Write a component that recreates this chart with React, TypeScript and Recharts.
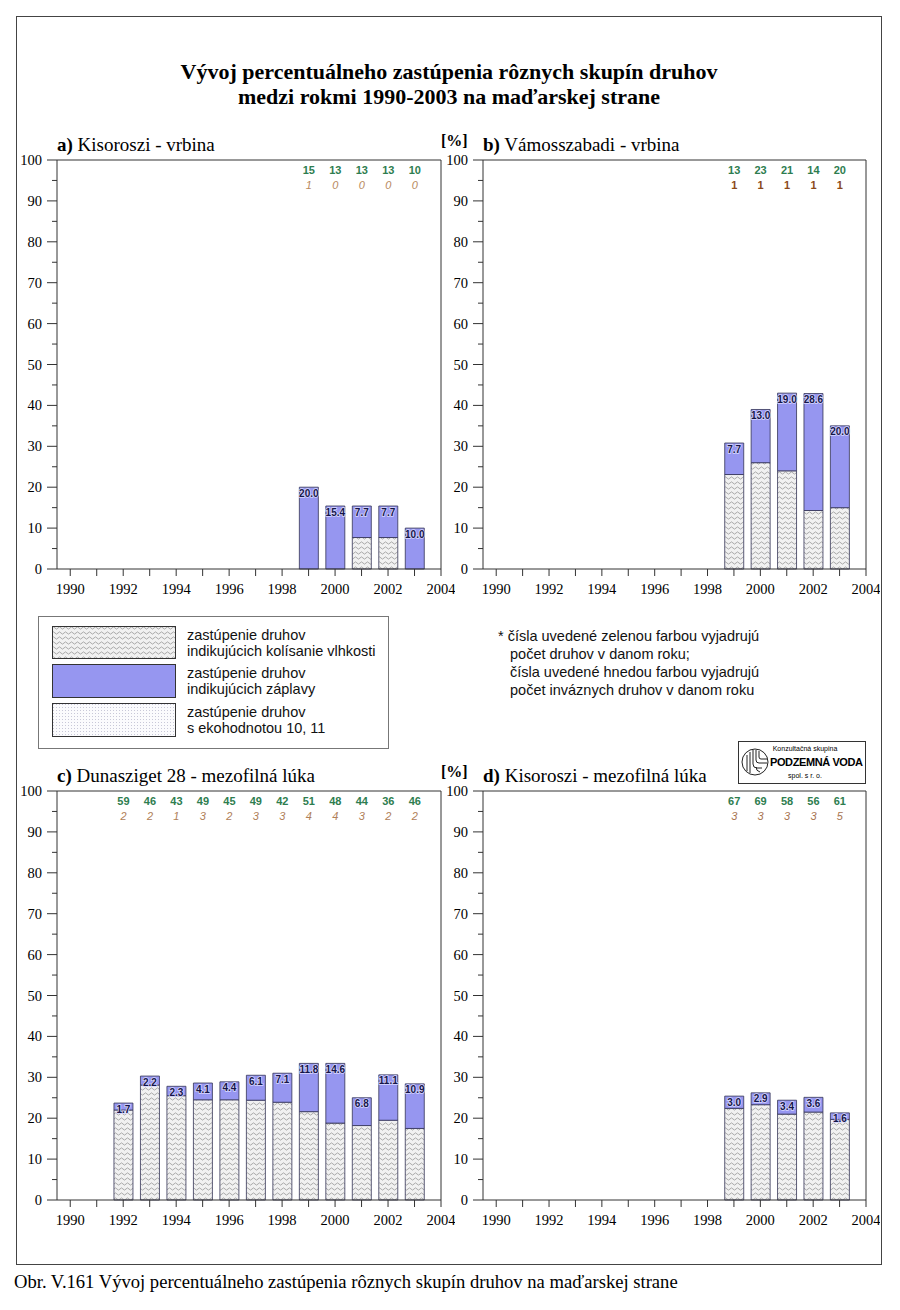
import React from "react"
import { Bar, BarChart, XAxis, YAxis, LabelList, ReferenceLine } from "recharts"

const SERIF = '"Liberation Serif", "Times New Roman", serif'
const SANS = '"Liberation Sans", Arial, sans-serif'
const AXIS = "#333"
const FLOOD_COLOR = "#9696f0"
const GREEN = "#2e7d4f"

// osa x
const X_TICKS = [1990, 1991, 1992, 1993, 1994, 1995, 1996, 1997, 1998, 1999, 2000, 2001, 2002, 2003, 2004]
const Y_TICKS = [0, 5, 10, 15, 20, 25, 30, 35, 40, 45, 50, 55, 60, 65, 70, 75, 80, 85, 90, 95, 100]

// a) Kisoroszi - vrbina
const YEARS_A = [1999, 2000, 2001, 2002, 2003]
const MOIST_A = [0, 0, 7.7, 7.7, 0]
const FLOOD_A = [20.0, 15.4, 7.7, 7.7, 10.0]
const SPECIES_A = [15, 13, 13, 13, 10]
const INVASIVE_A = [1, 0, 0, 0, 0]

// b) Vámosszabadi - vrbina
const YEARS_B = [1999, 2000, 2001, 2002, 2003]
const MOIST_B = [23.1, 26.0, 24.0, 14.3, 15.0]
const FLOOD_B = [7.7, 13.0, 19.0, 28.6, 20.0]
const SPECIES_B = [13, 23, 21, 14, 20]
const INVASIVE_B = [1, 1, 1, 1, 1]

// c) Dunasziget 28 - mezofilná lúka
const YEARS_C = [1992, 1993, 1994, 1995, 1996, 1997, 1998, 1999, 2000, 2001, 2002, 2003]
const MOIST_C = [22.0, 28.1, 25.5, 24.5, 24.5, 24.4, 23.9, 21.6, 18.8, 18.2, 19.5, 17.5]
const FLOOD_C = [1.7, 2.2, 2.3, 4.1, 4.4, 6.1, 7.1, 11.8, 14.6, 6.8, 11.1, 10.9]
const SPECIES_C = [59, 46, 43, 49, 45, 49, 42, 51, 48, 44, 36, 46]
const INVASIVE_C = [2, 2, 1, 3, 2, 3, 3, 4, 4, 3, 2, 2]

// d) Kisoroszi - mezofilná lúka
const YEARS_D = [1999, 2000, 2001, 2002, 2003]
const MOIST_D = [22.4, 23.3, 21.0, 21.5, 19.7]
const FLOOD_D = [3.0, 2.9, 3.4, 3.6, 1.6]
const SPECIES_D = [67, 69, 58, 56, 61]
const INVASIVE_D = [3, 3, 3, 3, 5]

const rows = (years: number[], moist: number[], flood: number[], species: number[], invasive: number[]) =>
  years.map((year, i) => ({ year, moist: moist[i], flood: flood[i], species: species[i], invasive: invasive[i] }))

const PLOT_TOP = 35
const Y_AXIS_W = 45

function YTick(props: any) {
  const { x, y, payload } = props
  const v = payload.value
  const major = v % 10 === 0
  const axisX = x + 15
  return (
    <g>
      <line x1={axisX - (major ? 10 : 5)} x2={axisX} y1={y} y2={y} stroke={AXIS} />
      {major && (
        <text x={x} y={y} dy="0.35em" textAnchor="end" fontFamily={SERIF} fontSize={14.5} fill="#000">
          {v}
        </text>
      )}
    </g>
  )
}

function box(p: any) {
  const vb = p.viewBox && p.viewBox.width !== undefined ? p.viewBox : p
  return { x: vb.x, y: vb.y, width: vb.width }
}

function FloodLabel(p: any) {
  const { x, y, width } = box(p)
  return (
    <text x={x + width / 2} y={y + 6} dy="0.35em" textAnchor="middle" fontFamily={SANS} fontSize={10} fontWeight="bold"
      fill="#15154a" stroke="#d8d8ff" strokeWidth={1.5} paintOrder="stroke">
      {Number(p.value).toFixed(1)}
    </text>
  )
}

function Panel({ left, top, width, plotLeft, data, brown, brownItalic }: any) {
  const SpeciesLabel = (p: any) => {
    const { x, width: w } = box(p)
    return (
      <text x={x + w / 2} y={PLOT_TOP + 10} dy="0.35em" textAnchor="middle" fontFamily={SANS} fontSize={11} fontWeight="bold" fill={GREEN}>
        {p.value}
      </text>
    )
  }
  const InvasiveLabel = (p: any) => {
    const { x, width: w } = box(p)
    return (
      <text x={x + w / 2} y={PLOT_TOP + 25} dy="0.35em" textAnchor="middle" fontFamily={SANS} fontSize={11}
        fontStyle={brownItalic ? "italic" : "normal"} fontWeight={brownItalic ? "normal" : "bold"} fill={brown}>
        {p.value}
      </text>
    )
  }
  return (
    <div style={{ position: "absolute", left, top }}>
      <BarChart width={width} height={480} data={data}
        margin={{ top: PLOT_TOP, right: 14, bottom: 6, left: plotLeft - left - Y_AXIS_W }}>
        <XAxis type="number" dataKey="year" domain={[1989.5, 2004]} ticks={X_TICKS} interval={0} allowDataOverflow
          height={30} stroke={AXIS} tickSize={7} tickMargin={8}
          tick={{ fontFamily: SERIF, fontSize: 14.5, fill: "#000" }}
          tickFormatter={(v: number) => (v % 2 === 0 ? String(v) : "")} />
        <YAxis domain={[0, 100]} ticks={Y_TICKS} interval={0} width={Y_AXIS_W} stroke={AXIS}
          tickLine={false} tickSize={10} tickMargin={5} tick={<YTick />} />
        <ReferenceLine y={100} stroke={AXIS} />
        <ReferenceLine x={2004} stroke={AXIS} />
        <Bar dataKey="moist" stackId="s" barSize={19} fill="url(#wave)" stroke="#333355" strokeWidth={0.8} isAnimationActive={false} />
        <Bar dataKey="flood" stackId="s" barSize={19} fill={FLOOD_COLOR} stroke="#333355" strokeWidth={0.8} isAnimationActive={false}>
          <LabelList dataKey="flood" content={FloodLabel} />
          <LabelList dataKey="species" content={SpeciesLabel} />
          <LabelList dataKey="invasive" content={InvasiveLabel} />
        </Bar>
      </BarChart>
    </div>
  )
}

function Abs({ left, top, children, style }: any) {
  return <div style={{ position: "absolute", left, top, whiteSpace: "nowrap", ...style }}>{children}</div>
}

function PanelTitle({ left, top, tag, name }: any) {
  return (
    <Abs left={left} top={top} style={{ fontFamily: SERIF, fontSize: 19, lineHeight: "20px" }}>
      <b>{tag}</b> {name}
    </Abs>
  )
}

export default function App() {
  const legendText = { fontFamily: SANS, fontSize: 14.5, lineHeight: "16px", color: "#111" }
  return (
    <div style={{ position: "absolute", left: 0, top: 0, width: 900, height: 1310, background: "#fff" }}>
      <svg width={0} height={0} style={{ position: "absolute" }}>
        <defs>
          <pattern id="wave" width={6} height={5} patternUnits="userSpaceOnUse">
            <rect width={6} height={5} fill="#f1f1f1" />
            <path d="M0 3 q1.5 -2.2 3 0 t3 0" stroke="#8a8a8a" strokeWidth={0.7} fill="none" />
          </pattern>
          <pattern id="dots" width={3} height={3} patternUnits="userSpaceOnUse">
            <rect width={3} height={3} fill="#fbfbfd" />
            <rect x={1} y={1} width={1} height={1} fill="#c8c8d8" />
          </pattern>
        </defs>
      </svg>

      <div style={{ position: "absolute", left: 16, top: 16, width: 866, height: 1249, border: "1px solid #444", boxSizing: "border-box" }} />

      <Abs left={16} top={59} style={{ width: 866, textAlign: "center", fontFamily: SERIF, fontSize: 22, fontWeight: "bold", lineHeight: "25px" }}>
        Vývoj percentuálneho zastúpenia rôznych skupín druhov<br />medzi rokmi 1990-2003 na maďarskej strane
      </Abs>

      <PanelTitle left={57} top={135} tag="a)" name="Kisoroszi - vrbina" />
      <PanelTitle left={483} top={135} tag="b)" name="Vámosszabadi - vrbina" />
      <PanelTitle left={57} top={766} tag="c)" name="Dunasziget 28 - mezofilná lúka" />
      <PanelTitle left={483} top={766} tag="d)" name="Kisoroszi - mezofilná lúka" />
      <Abs left={441} top={131} style={{ fontFamily: SERIF, fontSize: 16, fontWeight: "bold", lineHeight: "20px" }}>[%]</Abs>
      <Abs left={441} top={762} style={{ fontFamily: SERIF, fontSize: 16, fontWeight: "bold", lineHeight: "20px" }}>[%]</Abs>

      <Panel left={0} top={125} width={455} plotLeft={57} brown="#b8895e" brownItalic
        data={rows(YEARS_A, MOIST_A, FLOOD_A, SPECIES_A, INVASIVE_A)} />
      <Panel left={430} top={125} width={880 - 430} plotLeft={483} brown="#8b4a1a" brownItalic={false}
        data={rows(YEARS_B, MOIST_B, FLOOD_B, SPECIES_B, INVASIVE_B)} />
      <Panel left={0} top={756} width={455} plotLeft={57} brown="#b08058" brownItalic
        data={rows(YEARS_C, MOIST_C, FLOOD_C, SPECIES_C, INVASIVE_C)} />
      <Panel left={430} top={756} width={880 - 430} plotLeft={483} brown="#a87450" brownItalic
        data={rows(YEARS_D, MOIST_D, FLOOD_D, SPECIES_D, INVASIVE_D)} />

      {/* legenda */}
      <div style={{ position: "absolute", left: 38, top: 616, width: 351, height: 133, border: "1px solid #777", boxSizing: "border-box" }} />
      <svg width={125} height={112} style={{ position: "absolute", left: 52, top: 625 }}>
        <rect x={0.5} y={1.5} width={123} height={32} fill="url(#wave)" stroke="#333" />
        <rect x={0.5} y={39.5} width={123} height={33} fill={FLOOD_COLOR} stroke="#333" />
        <rect x={0.5} y={78.5} width={123} height={33} fill="url(#dots)" stroke="#333" />
      </svg>
      <Abs left={187} top={627} style={legendText}>zastúpenie druhov<br />indikujúcich kolísanie vlhkosti</Abs>
      <Abs left={187} top={665} style={legendText}>zastúpenie druhov<br />indikujúcich záplavy</Abs>
      <Abs left={187} top={704} style={legendText}>zastúpenie druhov<br />s ekohodnotou 10, 11</Abs>

      <Abs left={498} top={627} style={{ ...legendText, lineHeight: "18px" }}>
        * čísla uvedené zelenou farbou vyjadrujú<br />
        <span style={{ paddingLeft: 12 }}>počet druhov v danom roku;</span><br />
        <span style={{ paddingLeft: 12 }}>čísla uvedené hnedou farbou vyjadrujú</span><br />
        <span style={{ paddingLeft: 12 }}>počet inváznych druhov v danom roku</span>
      </Abs>

      {/* logo */}
      <div style={{ position: "absolute", left: 738, top: 741, width: 128, height: 43, border: "1px solid #333", boxSizing: "border-box", background: "#fff" }} />
      <svg width={30} height={36} style={{ position: "absolute", left: 741, top: 745 }}>
        <g fill="none" stroke="#222" strokeWidth={1}>
          <circle cx={14} cy={17} r={13} />
          <path d="M6 10 v16 M9 7 v21 M12 5 v14 q0 4 4 4 h5 M15 5 v10 q0 3 3 3 h8 M18 6 v6 q0 2 2 2 h6" />
          <path d="M19 27 q-4 -1 -4 -5" />
        </g>
      </svg>
      <Abs left={772} top={744} style={{ fontFamily: SANS, fontSize: 7, lineHeight: "9px", width: 66, textAlign: "center" }}>Konzultačná skupina</Abs>
      <Abs left={770} top={756} style={{ fontFamily: SANS, fontSize: 11, fontWeight: "bold", lineHeight: "13px", letterSpacing: -0.4 }}>PODZEMNÁ VODA</Abs>
      <Abs left={772} top={771} style={{ fontFamily: SANS, fontSize: 7, lineHeight: "9px", width: 66, textAlign: "center" }}>spol. s r. o.</Abs>

      <Abs left={14} top={1271} style={{ fontFamily: SERIF, fontSize: 18.6, lineHeight: "22px" }}>
        Obr. V.161 Vývoj percentuálneho zastúpenia rôznych skupín druhov na maďarskej strane
      </Abs>
    </div>
  )
}
